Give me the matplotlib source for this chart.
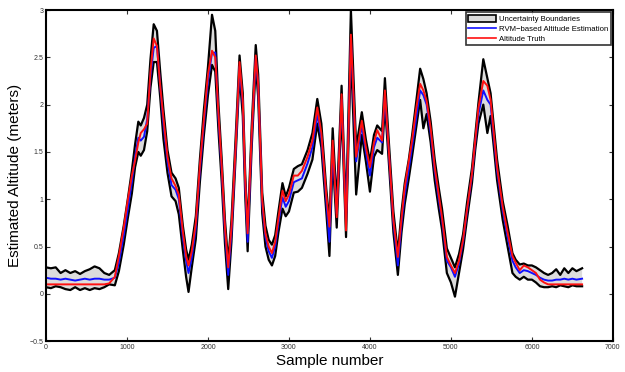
import numpy as np
import matplotlib
matplotlib.use('Agg')
import matplotlib.pyplot as plt
from matplotlib.patches import Patch
from matplotlib.lines import Line2D

plt.rcParams['font.family'] = ['Liberation Sans', 'DejaVu Sans']

# sample index, truth, RVM estimate, upper and lower uncertainty boundaries
samples = [0, 60, 120, 180, 240, 300, 360, 420, 480, 540, 600, 660, 720, 780,
           850, 900, 960, 1010, 1060, 1100, 1140, 1170, 1210, 1250, 1290, 1330,
           1370, 1410, 1450, 1500, 1550, 1600, 1640, 1690, 1730, 1760, 1800,
           1850, 1900, 1950, 2000, 2050, 2090, 2130, 2170, 2210, 2250, 2290,
           2340, 2390, 2430, 2460, 2490, 2540, 2590, 2620, 2670, 2710, 2750,
           2790, 2830, 2870, 2920, 2960, 3000, 3060, 3110, 3160, 3230, 3290,
           3350, 3400, 3460, 3500, 3540, 3590, 3650, 3705, 3765, 3830, 3900,
           3950, 4000, 4050, 4090, 4150, 4185, 4225, 4290, 4345, 4390, 4430,
           4480, 4520, 4570, 4620, 4660, 4700, 4750, 4800, 4850, 4890, 4950,
           5000, 5050, 5100, 5150, 5200, 5260, 5300, 5340, 5400, 5450, 5490,
           5530, 5570, 5640, 5700, 5760, 5800, 5850, 5900, 5950, 6000, 6050,
           6100, 6150, 6200, 6250, 6300, 6350, 6400, 6450, 6500, 6550, 6620]
truth = [0.10, 0.10, 0.10, 0.10, 0.10, 0.10, 0.10, 0.10, 0.10, 0.10, 0.10, 0.10, 0.10, 0.11,
         0.18, 0.40, 0.70, 0.99, 1.25, 1.41, 1.60, 1.70, 1.74, 1.80, 2.35, 2.70,
         2.62, 2.20, 1.86, 1.45, 1.22, 1.14, 1.05, 0.66, 0.40, 0.30, 0.45,
         0.75, 1.35, 1.85, 2.32, 2.57, 2.50, 1.90, 1.34, 0.70, 0.28, 0.70,
         1.52, 2.45, 2.04, 1.20, 0.64, 1.69, 2.52, 2.22, 0.99, 0.64, 0.50,
         0.43, 0.55, 0.80, 1.09, 0.98, 1.05, 1.25, 1.25, 1.30, 1.45, 1.62,
         1.97, 1.70, 1.05, 0.71, 1.62, 0.81, 2.11, 0.67, 2.74, 1.45, 1.83,
         1.55, 1.34, 1.60, 1.73, 1.62, 2.15, 1.62, 0.78, 0.39, 0.80, 1.13,
         1.40, 1.62, 1.95, 2.22, 2.15, 2.04, 1.75, 1.34, 1.05, 0.81, 0.39,
         0.30, 0.22, 0.35, 0.57, 0.90, 1.27, 1.62, 1.97, 2.25, 2.20, 2.05,
         1.70, 1.34, 0.92, 0.65, 0.40, 0.33, 0.25, 0.30, 0.28, 0.25, 0.22,
         0.15, 0.12, 0.10, 0.10, 0.10, 0.10, 0.10, 0.10, 0.10, 0.10, 0.10]
estimate = [0.17, 0.16, 0.16, 0.15, 0.16, 0.15, 0.14, 0.15, 0.16, 0.15, 0.16, 0.16, 0.15, 0.15,
            0.17, 0.33, 0.62, 0.90, 1.18, 1.45, 1.65, 1.62, 1.66, 1.85, 2.30, 2.60,
            2.62, 2.20, 1.80, 1.40, 1.15, 1.10, 1.00, 0.60, 0.35, 0.22, 0.38,
            0.70, 1.30, 1.80, 2.25, 2.55, 2.55, 1.85, 1.30, 0.65, 0.20, 0.65,
            1.50, 2.40, 2.00, 1.15, 0.55, 1.65, 2.50, 2.20, 0.95, 0.60, 0.45,
            0.38, 0.50, 0.75, 1.02, 0.92, 0.98, 1.18, 1.20, 1.22, 1.38, 1.55,
            1.90, 1.65, 1.00, 0.55, 1.55, 0.85, 2.05, 0.75, 2.70, 1.40, 1.78,
            1.50, 1.25, 1.55, 1.65, 1.60, 2.10, 1.60, 0.75, 0.30, 0.75, 1.05,
            1.32, 1.55, 1.85, 2.15, 2.10, 2.00, 1.70, 1.30, 1.00, 0.78, 0.35,
            0.28, 0.18, 0.32, 0.55, 0.88, 1.25, 1.60, 1.90, 2.15, 2.05, 2.00,
            1.65, 1.30, 0.88, 0.60, 0.35, 0.28, 0.22, 0.25, 0.24, 0.22, 0.20,
            0.17, 0.15, 0.14, 0.14, 0.15, 0.15, 0.16, 0.15, 0.16, 0.15, 0.16]
upper = [0.28, 0.27, 0.28, 0.22, 0.25, 0.22, 0.24, 0.21, 0.24, 0.26, 0.29, 0.27, 0.22, 0.20,
         0.25, 0.43, 0.72, 1.00, 1.30, 1.58, 1.82, 1.78, 1.86, 2.00, 2.48, 2.85,
         2.78, 2.35, 1.95, 1.52, 1.28, 1.22, 1.12, 0.72, 0.47, 0.36, 0.52,
         0.82, 1.42, 1.95, 2.40, 2.95, 2.78, 2.00, 1.42, 0.78, 0.33, 0.78,
         1.62, 2.52, 2.12, 1.27, 0.68, 1.77, 2.63, 2.32, 1.07, 0.72, 0.57,
         0.52, 0.62, 0.87, 1.17, 1.03, 1.12, 1.32, 1.35, 1.37, 1.52, 1.70,
         2.06, 1.80, 1.12, 0.75, 1.75, 0.95, 2.20, 0.85, 3.00, 1.55, 1.92,
         1.63, 1.40, 1.68, 1.78, 1.72, 2.28, 1.72, 0.87, 0.43, 0.87, 1.17,
         1.42, 1.67, 2.02, 2.38, 2.27, 2.12, 1.82, 1.42, 1.12, 0.90, 0.48,
         0.38, 0.28, 0.42, 0.63, 0.97, 1.33, 1.68, 2.02, 2.48, 2.28, 2.12,
         1.77, 1.42, 0.98, 0.72, 0.43, 0.36, 0.31, 0.32, 0.30, 0.30, 0.28,
         0.25, 0.22, 0.20, 0.22, 0.26, 0.20, 0.27, 0.22, 0.27, 0.24, 0.27]
lower = [0.07, 0.06, 0.08, 0.07, 0.05, 0.04, 0.07, 0.04, 0.06, 0.04, 0.06, 0.05, 0.07, 0.10,
         0.09, 0.24, 0.52, 0.80, 1.06, 1.34, 1.50, 1.46, 1.52, 1.72, 2.18, 2.45,
         2.45, 2.08, 1.64, 1.28, 1.03, 0.98, 0.84, 0.46, 0.18, 0.02, 0.28,
         0.58, 1.18, 1.68, 2.10, 2.42, 2.35, 1.72, 1.18, 0.53, 0.05, 0.55,
         1.42, 2.32, 1.88, 1.04, 0.45, 1.55, 2.42, 2.08, 0.85, 0.50, 0.36,
         0.30, 0.40, 0.65, 0.90, 0.82, 0.87, 1.07, 1.08, 1.12, 1.27, 1.42,
         1.80, 1.55, 0.88, 0.40, 1.45, 0.70, 1.95, 0.60, 2.55, 1.05, 1.68,
         1.40, 1.08, 1.45, 1.52, 1.48, 2.00, 1.50, 0.65, 0.20, 0.65, 0.95,
         1.22, 1.45, 1.75, 2.05, 1.75, 1.90, 1.60, 1.20, 0.90, 0.68, 0.22,
         0.12, -0.03, 0.22, 0.47, 0.80, 1.17, 1.52, 1.80, 2.00, 1.70, 1.88,
         1.55, 1.20, 0.78, 0.50, 0.22, 0.18, 0.15, 0.18, 0.15, 0.15, 0.12,
         0.08, 0.07, 0.07, 0.08, 0.07, 0.09, 0.08, 0.07, 0.09, 0.08, 0.08]

fig = plt.figure(figsize=(6.25, 3.72), dpi=100)
ax = fig.add_axes([0.0736, 0.083, 0.907, 0.89])

ax.fill_between(samples, lower, upper, facecolor='#dcdcdc', edgecolor='none')
ax.plot(samples, upper, color='black', lw=1.6)
ax.plot(samples, lower, color='black', lw=1.6)
ax.plot(samples, estimate, color='#1010ff', lw=1.4)
ax.plot(samples, truth, color='#ff1010', lw=1.4)

ax.set_xlim(0, 7000)
ax.set_ylim(-0.5, 3)
ax.set_xticks(np.arange(0, 7001, 1000))
ax.set_yticks(np.arange(-0.5, 3.01, 0.5))
ax.set_yticklabels(['\u22120.5', '0', '0.5', '1', '1.5', '2', '2.5', '3'])
ax.tick_params(direction='in', top=True, right=True, labelsize=5, length=3,
               width=0.8, pad=2, colors='#333333')
for s in ax.spines.values():
    s.set_linewidth(1.5)

ax.set_xlabel('Sample number', fontsize=11, labelpad=2)
ax.set_ylabel('Estimated Altitude (meters)', fontsize=11, labelpad=5)

handles = [Patch(facecolor='#dcdcdc', edgecolor='black', lw=1.2),
           Line2D([], [], color='#1010ff', lw=1.2),
           Line2D([], [], color='#ff1010', lw=1.2)]
labels = ['Uncertainty Boundaries', 'RVM\u2212based Altitude Estimation', 'Altitude Truth']
leg = ax.legend(handles, labels, loc='upper right', fontsize=5.6, frameon=True,
                fancybox=False, edgecolor='black', borderpad=0.35, labelspacing=0.2,
                handlelength=3.6, handleheight=1.0, handletextpad=0.3,
                borderaxespad=0.3)
leg.get_frame().set_linewidth(1.2)

fig.savefig('out.png', dpi=100)
